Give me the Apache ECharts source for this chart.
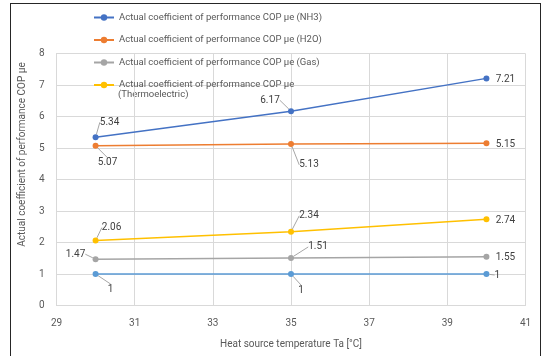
<!DOCTYPE html>
<html>
<head>
<meta charset="utf-8">
<script src="https://cdn.jsdelivr.net/npm/echarts@6/dist/echarts.min.js"></script>
<style>
html,body{margin:0;padding:0;background:#fff;}
#frame{position:absolute;left:10px;top:3px;width:531px;height:360px;border:1px solid #262626;box-sizing:border-box;}
#chart{position:absolute;left:0;top:0;width:546px;height:356px;}
</style>
</head>
<body>
<div id="frame"></div>
<div id="chart"></div>
<script>
// ---- data ----
const temperatures = [30, 35, 40];
const copNH3 = [5.34, 6.17, 7.21];
const copH2O = [5.07, 5.13, 5.15];
const copGas = [1.47, 1.51, 1.55];
const copThermo = [2.06, 2.34, 2.74];
const copReference = [1, 1, 1];
const seriesNames = [
  'Actual coefficient of performance COP µe (NH3)',
  'Actual coefficient of performance COP µe (H2O)',
  'Actual coefficient of performance COP µe (Gas)',
  'Actual coefficient of performance COP µe (Thermoelectric)',
  'Reference COP'
];
const xTicks = [29, 31, 33, 35, 37, 39, 41];
const yTicks = [0, 1, 2, 3, 4, 5, 6, 7, 8];

// ---- styling (label offsets relative to each point, in px; leader line flags) ----
const colors = ['#4472C4', '#ED7D31', '#A5A5A5', '#FFC000', '#5B9BD5'];
const labelOffsets = [
  [[14, -15], [-21, -11], [19, 1]],
  [[12, 17], [18, 21], [19, 1]],
  [[-20, -5], [27, -11], [19, 1]],
  [[16, -13], [18, -16], [19, 1]],
  [[15, 15], [10, 16], [11, 1]]
];
const leaderShown = [
  [true, true, false],
  [true, true, false],
  [true, true, false],
  [true, true, false],
  [true, true, true]
];
const FONT = 'Roboto, "Liberation Sans", sans-serif';

const seriesData = [copNH3, copH2O, copGas, copThermo, copReference];

const chart = echarts.init(document.getElementById('chart'), null, {renderer: 'canvas'});

const series = seriesData.map((vals, si) => ({
  name: seriesNames[si],
  type: 'line',
  data: vals.map((v, i) => ({
    value: [temperatures[i], v],
    labelLine: {show: leaderShown[si][i]}
  })),
  symbol: 'circle',
  symbolSize: 6,
  color: colors[si],
  lineStyle: {width: 1.5, color: colors[si]},
  itemStyle: {color: colors[si]},
  emphasis: {disabled: true},
  label: {
    show: true,
    position: 'inside',
    formatter: p => String(p.value[1]),
    color: '#404040',
    fontSize: 10,
    fontFamily: FONT
  },
  labelLine: {show: true, lineStyle: {color: '#A6A6A6', width: 1}},
  labelLayout: function (p) {
    const o = labelOffsets[si][p.dataIndex];
    return {dx: o[0], dy: o[1]};
  },
  z: 5 - si
}));

const option = {
  backgroundColor: 'transparent',
  animation: false,
  grid: {left: 56.5, right: 20.5, top: 53.5, bottom: 50.5},
  legend: {
    data: seriesNames.slice(0, 4),
    orient: 'vertical',
    left: 88,
    top: 6.5,
    itemWidth: 20,
    itemHeight: 8,
    itemGap: 10.5,
    textStyle: {fontSize: 9.5, color: '#595959', fontFamily: FONT, lineHeight: 12},
    formatter: n => n.replace(' (Thermoelectric)', ''),
    selectedMode: false
  },
  graphic: [{
    type: 'text',
    left: 118,
    top: 90,
    style: {text: '(Thermoelectric)', fill: '#595959', font: '9.5px ' + FONT}
  }],
  xAxis: {
    type: 'value',
    min: xTicks[0],
    max: xTicks[xTicks.length - 1],
    interval: 2,
    name: 'Heat source temperature Ta [°C]',
    nameLocation: 'middle',
    nameGap: 34,
    nameTextStyle: {fontSize: 10, color: '#595959', fontFamily: FONT},
    axisLine: {show: true, lineStyle: {color: '#D9D9D9'}},
    axisTick: {show: false},
    axisLabel: {fontSize: 10, color: '#595959', fontFamily: FONT, margin: 13},
    splitLine: {show: true, lineStyle: {color: '#D9D9D9', width: 1}}
  },
  yAxis: {
    type: 'value',
    min: yTicks[0],
    max: yTicks[yTicks.length - 1],
    interval: 1,
    name: 'Actual coefficient of performance COP µe',
    nameLocation: 'middle',
    nameGap: 28,
    nameTextStyle: {fontSize: 10, color: '#595959', fontFamily: FONT, padding: [0, 0, 0, 50]},
    axisLine: {show: true, lineStyle: {color: '#D9D9D9'}},
    axisTick: {show: false},
    axisLabel: {fontSize: 10, color: '#595959', fontFamily: FONT, margin: 12},
    splitLine: {show: true, lineStyle: {color: '#D9D9D9', width: 1}}
  },
  series: series
};
chart.setOption(option);
</script>
</body>
</html>
